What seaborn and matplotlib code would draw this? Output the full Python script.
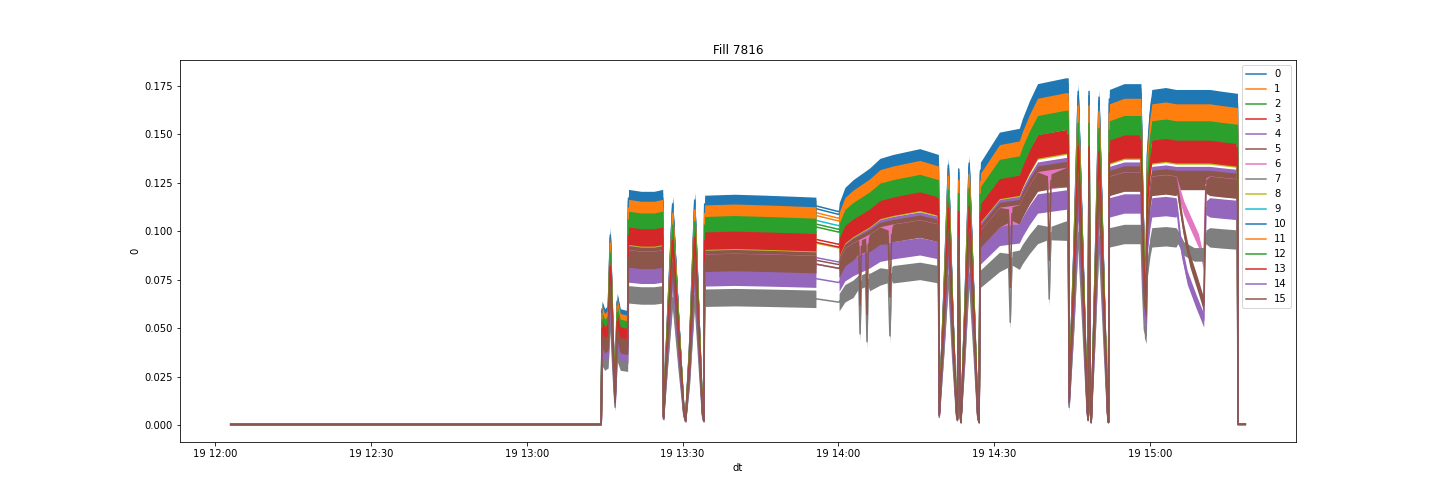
import pandas as pd
import seaborn as sns
import matplotlib.pyplot as plt

day = '2022-06-19 '
channels = list(range(16))

times = ['12:03:00', '13:14:20', '13:14:30', '13:15:00', '13:15:40', '13:16:05', '13:16:35',
         '13:17:00', '13:17:25', '13:18:00', '13:19:25', '13:19:35', '13:22:00', '13:24:30',
         '13:26:10', '13:26:20', '13:27:10', '13:28:05', '13:29:20', '13:30:15', '13:30:35',
         '13:31:20', '13:32:20', '13:33:10', '13:33:50', '13:34:05', '13:34:15', '13:40:00',
         '13:46:00', '13:51:00', '13:55:40', '13:55:41', '14:00:07', '14:00:08', '14:01:15',
         '14:02:50', '14:06:00', '14:08:00', '14:10:30', '14:15:40', '14:19:15', '14:19:25',
         '14:20:20', '14:21:10', '14:22:00', '14:22:45', '14:22:55', '14:23:10', '14:23:25',
         '14:23:35', '14:24:20', '14:25:10', '14:26:10', '14:26:50', '14:27:05', '14:27:20',
         '14:31:00', '14:34:50', '14:35:25', '14:36:45', '14:38:20', '14:43:45', '14:44:15',
         '14:44:25', '14:45:20', '14:46:10', '14:47:10', '14:47:55', '14:48:05', '14:48:15',
         '14:48:30', '14:48:40', '14:49:25', '14:50:10', '14:51:10', '14:51:50', '14:52:00',
         '14:52:10', '14:55:00', '14:58:15', '14:58:35', '14:58:55', '14:59:15', '14:59:30',
         '15:00:00', '15:00:20', '15:03:00', '15:05:00', '15:11:30', '15:14:00', '15:16:50',
         '15:16:55', '15:18:20']
beam = [0.0004, 0.0004, 0.060, 0.056, 0.058, 0.098, 0.050,
        0.016, 0.064, 0.056, 0.055, 0.117, 0.116, 0.116,
        0.117, 0.005, 0.060, 0.114, 0.050, 0.008, 0.003,
        0.040, 0.116, 0.055, 0.008, 0.003, 0.114, 0.1145,
        0.114, 0.1135, 0.113, 0.113, 0.110, 0.110, 0.118,
        0.122, 0.128, 0.133, 0.135, 0.138, 0.135, 0.007,
        0.070, 0.134, 0.060, 0.008, 0.004, 0.132, 0.010,
        0.002, 0.060, 0.135, 0.060, 0.006, 0.002, 0.131,
        0.146, 0.148, 0.153, 0.162, 0.171, 0.174, 0.174,
        0.016, 0.090, 0.172, 0.080, 0.010, 0.004, 0.172,
        0.010, 0.002, 0.080, 0.169, 0.070, 0.008, 0.002,
        0.168, 0.171, 0.171, 0.120, 0.085, 0.080, 0.140,
        0.160, 0.168, 0.169, 0.168, 0.168, 0.167, 0.166,
        0.0005, 0.0005]
spread = [0, 0, 0.004, 0.004, 0.004, 0.004, 0.003,
          0.002, 0.004, 0.004, 0.004, 0.0045, 0.0045, 0.0045,
          0.0045, 0.001, 0.003, 0.004, 0.003, 0.001, 0.0005,
          0.003, 0.004, 0.003, 0.001, 0.0005, 0.0045, 0.0045,
          0.0045, 0.0045, 0.0045, 0, 0, 0.0045, 0.0045,
          0.0045, 0.0045, 0.0045, 0.0045, 0.0045, 0.0045, 0.001,
          0.003, 0.004, 0.003, 0.001, 0.0005, 0.002, 0.001,
          0.0005, 0.003, 0.004, 0.003, 0.001, 0.0005, 0.0045,
          0.005, 0.005, 0.005, 0.005, 0.005, 0.005, 0.005,
          0.002, 0.003, 0.004, 0.003, 0.001, 0.0005, 0.002,
          0.001, 0.0005, 0.003, 0.004, 0.003, 0.001, 0.0005,
          0.005, 0.005, 0.005, 0.004, 0.004, 0.004, 0.004,
          0.005, 0.005, 0.005, 0.005, 0.005, 0.005, 0.005,
          0, 0]

# level of each channel relative to channel 0
gain = [1.000, 0.969, 0.917, 0.847, 0.764, 0.752, 0.735, 0.576,
        0.830, 0.934, 0.987, 0.956, 0.904, 0.834, 0.668, 0.734]

# stretches where a single channel leaves the common shape
solo = {
    6: [[('15:05:10', 0.124), ('15:06:30', 0.112), ('15:07:30', 0.106), ('15:09:20', 0.095),
         ('15:10:20', 0.083), ('15:10:45', 0.124)]],
    7: [[('14:03:55', 0.074), ('14:04:10', 0.047), ('14:04:25', 0.074)],
        [('14:05:15', 0.075), ('14:05:30', 0.043), ('14:05:45', 0.075)],
        [('14:09:35', 0.077), ('14:09:55', 0.046), ('14:10:15', 0.078)],
        [('14:32:45', 0.085), ('14:33:05', 0.053), ('14:33:25', 0.086)],
        [('14:40:15', 0.099), ('14:40:35', 0.065), ('14:40:55', 0.099)],
        [('15:05:20', 0.097), ('15:06:30', 0.091), ('15:08:30', 0.088), ('15:10:20', 0.088),
         ('15:10:45', 0.097)]],
    14: [[('15:05:10', 0.112), ('15:06:00', 0.091), ('15:07:10', 0.076), ('15:08:50', 0.064),
          ('15:10:20', 0.054), ('15:10:45', 0.112)]],
    15: [[('14:03:55', 0.092), ('14:04:10', 0.062), ('14:04:25', 0.092)],
         [('14:05:15', 0.093), ('14:05:30', 0.057), ('14:05:45', 0.093)],
         [('14:09:35', 0.097), ('14:09:55', 0.066), ('14:10:15', 0.098)],
         [('14:32:45', 0.108), ('14:33:05', 0.071), ('14:33:25', 0.109)],
         [('14:40:15', 0.125), ('14:40:35', 0.085), ('14:40:55', 0.126)],
         [('15:05:10', 0.123), ('15:06:30', 0.100), ('15:07:40', 0.085), ('15:09:20', 0.071),
          ('15:10:20', 0.062), ('15:10:45', 0.123)]],
}
solo_spread = 0.0035


def channel_frame(ch):
    points = [(t, b * gain[ch], s) for t, b, s in zip(times, beam, spread)]
    for stretch in solo.get(ch, []):
        first, last = stretch[0][0], stretch[-1][0]
        points = [p for p in points if not first <= p[0] <= last]
        points += [(t, v, solo_spread) for t, v in stretch]

    # low and high edge of the noise band at every time
    rows = []
    for t, v, s in points:
        rows.append((t, v - s))
        rows.append((t, v + s))

    frame = pd.DataFrame(rows, columns=['dt', '0'])
    frame['dt'] = pd.to_datetime(day + frame['dt'])
    return frame


fig, ax = plt.subplots(figsize=(20, 7), dpi=72)
fig.subplots_adjust(bottom=0.123)

for ch in channels:
    sns.lineplot(data=channel_frame(ch), x='dt', y='0', errorbar=('pi', 100),
                 label=str(ch), ax=ax,
                 err_kws={'alpha': 1, 'linewidth': 0, 'zorder': 2})

ax.set_title('Fill 7816')
ax.legend(loc='upper right')

fig.savefig('out.png')
